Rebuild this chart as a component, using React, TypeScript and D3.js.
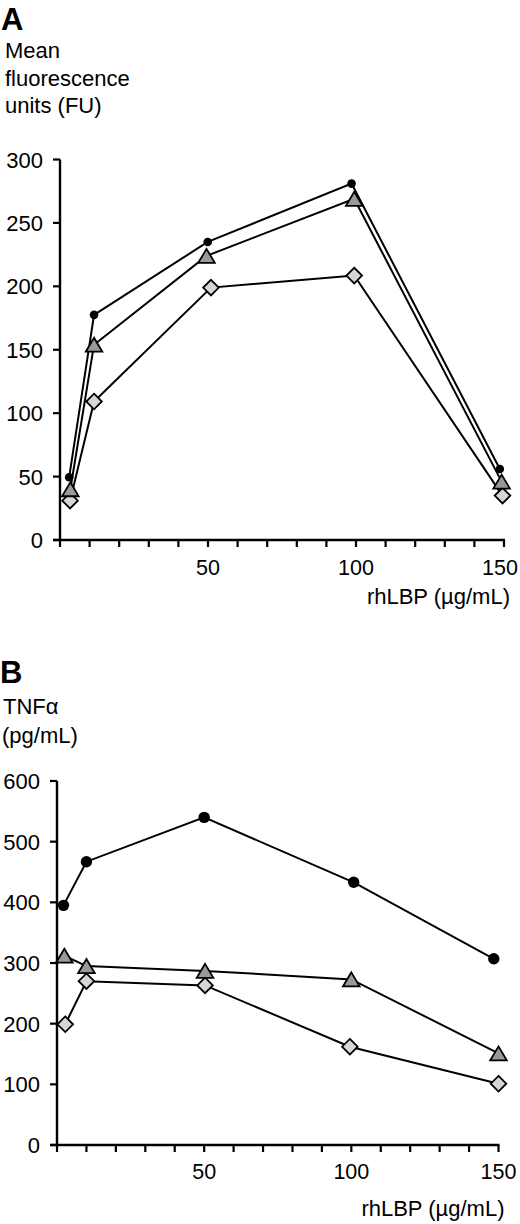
import * as d3 from "d3";

// Panel A: mean fluorescence (FU) vs rhLBP dose
const aDoseCircle = [3.1, 11.5, 49.9, 98.5, 148.6];
const aFuCircle = [49.5, 177.5, 235, 281, 56];
const aDoseTriangle = [3.5, 11.5, 49.5, 99.4, 149.2];
const aFuTriangle = [40, 154, 224, 269, 46];
const aDoseDiamond = [3.4, 11.5, 51, 99.4, 149.5];
const aFuDiamond = [31, 109.2, 199, 208.5, 35];

// Panel B: TNFα (pg/mL) vs rhLBP dose
const bDoseCircle = [2.2, 10, 50, 100.8, 148.4];
const bTnfCircle = [395, 467, 540, 433, 307];
const bDoseTriangle = [2.5, 10, 50.3, 100, 150];
const bTnfTriangle = [312, 295, 287, 273, 151];
const bDoseDiamond = [2.8, 10, 50.3, 99.5, 150];
const bTnfDiamond = [199, 270, 263, 162, 101];

const aYTicks = [0, 50, 100, 150, 200, 250, 300];
const bYTicks = [0, 100, 200, 300, 400, 500, 600];
const xLabelTicks = [50, 100, 150];
const xMinorTicks = d3.range(0, 151, 10);

const FONT = "'Liberation Sans', Arial, Helvetica, sans-serif";

type Shape = "circle" | "triangle" | "diamond";
type Series = { shape: Shape; xs: number[]; ys: number[] };

function Marker({ shape, cx, cy, r }: { shape: Shape; cx: number; cy: number; r: number }) {
  if (shape === "circle") return <circle cx={cx} cy={cy} r={r} fill="#000" />;
  if (shape === "triangle") {
    const w = 8.3, h = 7;
    return <path d={`M${cx},${cy - h}L${cx + w},${cy + h}L${cx - w},${cy + h}Z`} fill="#999" stroke="#000" strokeWidth={1.8} />;
  }
  const s = 7.8;
  return <path d={`M${cx},${cy - s}L${cx + s},${cy}L${cx},${cy + s}L${cx - s},${cy}Z`} fill="#d6d6d6" stroke="#000" strokeWidth={1.8} />;
}

function Panel({
  series, x, y, yTicks, circleR, xLabelOffset, titleY,
}: {
  series: Series[];
  x: d3.ScaleLinear<number, number>;
  y: d3.ScaleLinear<number, number>;
  yTicks: number[];
  circleR: number;
  xLabelOffset: number;
  titleY: number;
}) {
  const [x0, x1] = x.range();
  const y0 = y(0);
  const yTop = y(yTicks[yTicks.length - 1]);
  return (
    <g fontFamily={FONT} fill="#000">
      {series.map((s) => {
        const pts = s.xs.map((d, i) => [x(d), y(s.ys[i])] as [number, number]);
        return <path key={s.shape + "l"} d={d3.line()(pts) ?? ""} fill="none" stroke="#000" strokeWidth={2} />;
      })}
      {series.map((s) =>
        s.xs.map((d, i) => (
          <Marker key={s.shape + i} shape={s.shape} cx={x(d)} cy={y(s.ys[i])} r={circleR} />
        ))
      )}
      <line x1={x0} x2={x0} y1={yTop} y2={y0} stroke="#000" strokeWidth={2.4} />
      <line x1={x0 - 7} x2={x1 + 1} y1={y0} y2={y0} stroke="#000" strokeWidth={2.4} />
      {yTicks.map((t) => (
        <g key={"y" + t}>
          <line x1={x0 - 7} x2={x0} y1={y(t)} y2={y(t)} stroke="#000" strokeWidth={2.2} />
          <text x={x0 - 17} y={y(t) + 8} textAnchor="end" fontSize={22}>{t}</text>
        </g>
      ))}
      {xMinorTicks.map((t) => (
        <line key={"x" + t} x1={x(t)} x2={x(t)} y1={y0} y2={y0 + 7} stroke="#000" strokeWidth={2.2} />
      ))}
      {xLabelTicks.map((t) => (
        <text key={"xl" + t} x={Math.min(x(t), 500)} y={y0 + xLabelOffset} textAnchor="middle" fontSize={21.5}>{t}</text>
      ))}
      <text x={x1 + 6} y={titleY} textAnchor="end" fontSize={22}>rhLBP (µg/mL)</text>
    </g>
  );
}

export default function App() {
  const xA = d3.scaleLinear().domain([0, 150]).range([60, 504]);
  const yA = d3.scaleLinear().domain([0, 300]).range([540, 159.5]);
  const xB = d3.scaleLinear().domain([0, 150]).range([57, 498.5]);
  const yB = d3.scaleLinear().domain([0, 600]).range([1145, 781]);

  const seriesA: Series[] = [
    { shape: "diamond", xs: aDoseDiamond, ys: aFuDiamond },
    { shape: "triangle", xs: aDoseTriangle, ys: aFuTriangle },
    { shape: "circle", xs: aDoseCircle, ys: aFuCircle },
  ];
  const seriesB: Series[] = [
    { shape: "diamond", xs: bDoseDiamond, ys: bTnfDiamond },
    { shape: "triangle", xs: bDoseTriangle, ys: bTnfTriangle },
    { shape: "circle", xs: bDoseCircle, ys: bTnfCircle },
  ];

  return (
    <svg width={520} height={1224} style={{ position: "absolute", left: 0, top: 0, background: "#fff" }}>
      <rect width={520} height={1224} fill="#fff" />
      <g fontFamily={FONT} fill="#000">
        <text x={1} y={29.5} fontSize={31} fontWeight="bold">A</text>
        <text x={5} y={58} fontSize={22}>Mean</text>
        <text x={5} y={86} fontSize={22}>fluorescence</text>
        <text x={5} y={113} fontSize={22}>units (FU)</text>
        <text x={0} y={683} fontSize={31} fontWeight="bold">B</text>
        <text x={3} y={714} fontSize={22}>TNFα</text>
        <text x={2} y={743} fontSize={22}>(pg/mL)</text>
      </g>
      <Panel series={seriesA} x={xA} y={yA} yTicks={aYTicks} circleR={4.3} xLabelOffset={35} titleY={604} />
      <Panel series={seriesB} x={xB} y={yB} yTicks={bYTicks} circleR={5.7} xLabelOffset={34} titleY={1216} />
    </svg>
  );
}
